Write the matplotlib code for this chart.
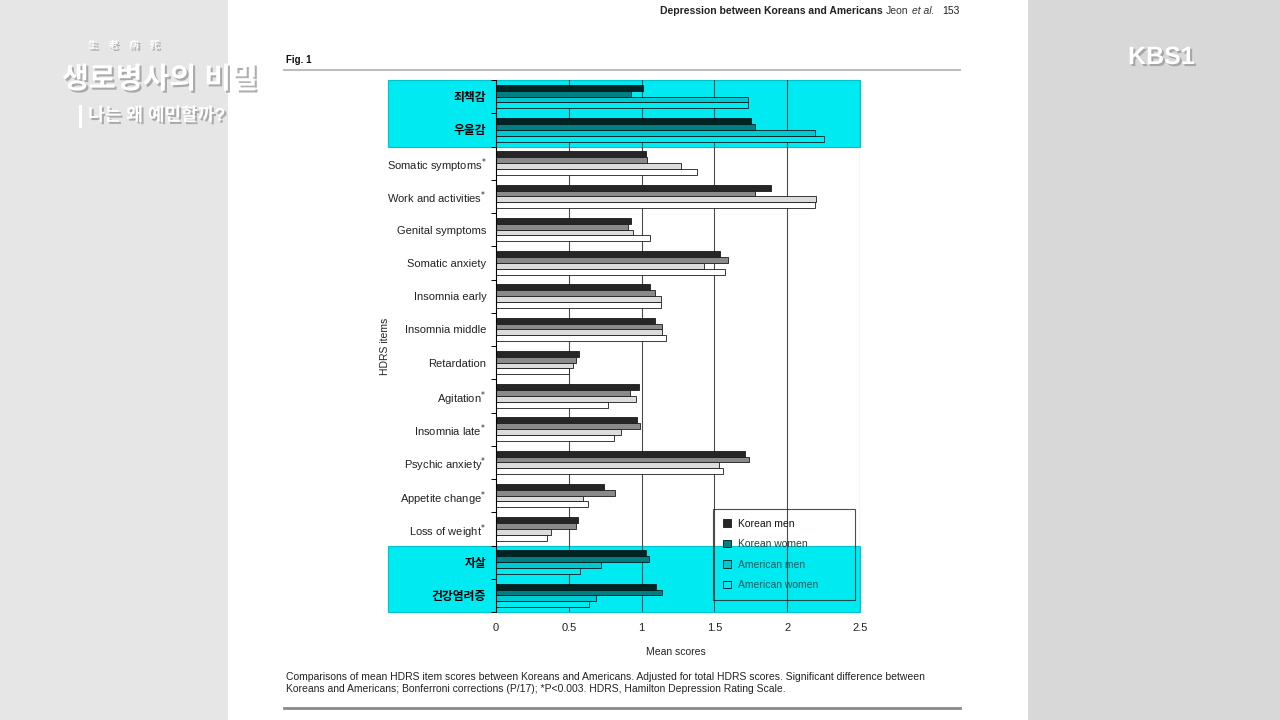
import numpy as np
import matplotlib.pyplot as plt
import matplotlib.patheffects as pe
from matplotlib.colors import to_rgb
from matplotlib.patches import Rectangle
from matplotlib.transforms import blended_transform_factory

plt.rcParams['font.family'] = ['Liberation Sans', 'Noto Sans CJK KR', 'DejaVu Sans']

# HDRS items, top to bottom (Korean = items highlighted by the broadcaster)
categories = ['죄책감', '우울감', 'Somatic symptoms', 'Work and activities',
              'Genital symptoms', 'Somatic anxiety', 'Insomnia early',
              'Insomnia middle', 'Retardation', 'Agitation', 'Insomnia late',
              'Psychic anxiety', 'Appetite change', 'Loss of weight',
              '자살', '건강염려증']
significant = [False, False, True, True, False, False, False, False,
               False, True, True, True, True, True, False, False]

# Mean scores
korean_men = [1.01, 1.75, 1.03, 1.89, 0.93, 1.54, 1.06, 1.09,
              0.57, 0.98, 0.97, 1.71, 0.74, 0.56, 1.03, 1.10]
korean_women = [0.93, 1.78, 1.04, 1.78, 0.91, 1.59, 1.09, 1.14,
                0.55, 0.92, 0.99, 1.74, 0.82, 0.55, 1.05, 1.14]
american_men = [1.73, 2.19, 1.27, 2.20, 0.94, 1.43, 1.13, 1.14,
                0.53, 0.96, 0.86, 1.53, 0.60, 0.38, 0.72, 0.69]
american_women = [1.73, 2.25, 1.38, 2.19, 1.06, 1.57, 1.13, 1.17,
                  0.50, 0.77, 0.81, 1.56, 0.63, 0.35, 0.58, 0.64]

series_names = ['Korean men', 'Korean women', 'American men', 'American women']
series_colors = ['#262626', '#8a8a8a', '#dcdcdc', '#ffffff']
x_ticks = [0, 0.5, 1, 1.5, 2, 2.5]
x_ticklabels = ['0', '0.5', '1', '1.5', '2', '2.5']
highlight_groups = [(0, 1), (14, 15)]
CYAN = '#00eaf2'
EDGE = '#1a1a1a'


def fx(px):
    return px / 1280


def fy(py):
    return 1 - py / 720


def tint(c):
    # the broadcast highlight acts like a multiply layer
    r, g, b = to_rgb(c)
    cr, cg, cb = to_rgb(CYAN)
    return (r * cr, g * cg, b * cb)


fig = plt.figure(figsize=(12.8, 7.2), dpi=100)
fig.patch.set_facecolor('#e6e6e6')
fig.add_artist(Rectangle((fx(1028), 0), fx(252), 1, transform=fig.transFigure,
                         facecolor='#d8d8d8', edgecolor='none', zorder=-2))
fig.add_artist(Rectangle((fx(228), 0), fx(800), 1, transform=fig.transFigure,
                         facecolor='white', edgecolor='none', zorder=-1))

ax = fig.add_axes([fx(496), fy(612), fx(364), 532 / 720])

y = np.arange(len(categories))
in_band = [any(a <= i <= b for a, b in highlight_groups) for i in y]
h = 0.175
all_series = [korean_men, korean_women, american_men, american_women]
for k, (vals, name, col) in enumerate(zip(all_series, series_names, series_colors)):
    faces = [tint(col) if hb else col for hb in in_band]
    edges = [tint(EDGE) if hb else EDGE for hb in in_band]
    ax.barh(y + (k - 1.5) * h, vals, height=h, color=faces, edgecolor=edges,
            linewidth=0.6, label=name, zorder=1)

for xv in x_ticks[1:]:
    ax.axvline(xv, color='#4a4a4a', lw=0.8, zorder=0.5)

ax.set_xlim(0, 2.5)
ax.set_ylim(len(categories) - 0.5, -0.5)
for s in ['top', 'bottom', 'right']:
    ax.spines[s].set_visible(False)
ax.spines['left'].set_linewidth(0.8)

labels = [c + (r'$^{*}$' if sig else '') for c, sig in zip(categories, significant)]
ax.set_yticks(y)
ax.set_yticklabels(labels)
ax.tick_params(axis='y', which='major', length=0, pad=7, labelsize=8, labelcolor='#222')
ax.set_yticks(np.arange(-0.5, len(categories)), minor=True)
ax.tick_params(axis='y', which='minor', length=3.5, width=0.7)
for lbl, cat in zip(ax.get_yticklabels(), categories):
    if any(ch >= '\uac00' for ch in cat):
        lbl.set_fontweight('bold')
        lbl.set_fontsize(8.5)
        lbl.set_color('black')

ax.set_xticks(x_ticks)
ax.set_xticklabels(x_ticklabels)
ax.tick_params(axis='x', length=0, pad=8, labelsize=8, labelcolor='#222')

ax.set_xlabel('Mean scores', fontsize=7.5, color='#222')
ax.xaxis.set_label_coords(0.4945, -0.066)
ax.set_ylabel('HDRS items', fontsize=7.5, color='#222')
ax.yaxis.set_label_coords(-0.29, 0.5)

# cyan highlight bands from the broadcast, under the bars
band_tr = blended_transform_factory(fig.transFigure, ax.transData)
for first, last in highlight_groups:
    ax.add_artist(Rectangle((fx(388), first - 0.5), fx(472), last - first + 1,
                            transform=band_tr, facecolor=CYAN, edgecolor='#00c4cc',
                            lw=0.8, clip_on=False, zorder=0.3))

leg = ax.legend(loc='lower left', bbox_to_anchor=(0.596, 0.0226, 0.39, 0.163),
                mode='expand', fontsize=7.5, handlelength=0.75, handleheight=0.75,
                fancybox=False, edgecolor='#222', facecolor='none', framealpha=None,
                borderpad=0.95, labelspacing=1.0, handletextpad=0.7, borderaxespad=0)
leg.get_frame().set_linewidth(0.8)
leg_text_colors = ['#111111', '#1e4446', '#1f5a5e', '#1f5a5e']
for k, (hd, txt) in enumerate(zip(leg.legend_handles, leg.get_texts())):
    col = series_colors[k]
    hd.set_facecolor(col if k == 0 else tint(col))
    hd.set_edgecolor(EDGE if k == 0 else tint(EDGE))
    txt.set_color(leg_text_colors[k])

# page decorations
fig.text(fx(883), fy(11), 'Depression between Koreans and Americans', ha='right',
         va='center', fontsize=7.5, fontweight='bold', color='#222')
fig.text(fx(886), fy(11), 'Jeon', ha='left', va='center', fontsize=7.5, color='#333')
fig.text(fx(912), fy(11), 'et al.', ha='left', va='center', fontsize=7.5,
         style='italic', color='#333')
fig.text(fx(960), fy(11), '153', ha='right', va='center', fontsize=7.5, color='#222')
fig.text(fx(286), fy(60), 'Fig. 1', ha='left', va='center', fontsize=7,
         fontweight='bold', color='#111')
fig.add_artist(plt.Line2D([fx(284), fx(960)], [fy(70), fy(70)], color='#bdbdbd', lw=1.5))
fig.text(fx(286), fy(677), 'Comparisons of mean HDRS item scores between Koreans and Americans. '
         'Adjusted for total HDRS scores. Significant difference between',
         ha='left', va='center', fontsize=7.5, color='#222')
fig.text(fx(286), fy(689), 'Koreans and Americans; Bonferroni corrections (P/17); *P<0.003. '
         'HDRS, Hamilton Depression Rating Scale.',
         ha='left', va='center', fontsize=7.5, color='#222')
fig.add_artist(plt.Line2D([fx(284), fx(960)], [fy(708), fy(708)], color='#8a8a8a', lw=2))

# broadcast overlay
shadow = [pe.withSimplePatchShadow(offset=(1.5, -1.5), shadow_rgbFace='#9a9a9a', alpha=0.8)]
fig.text(fx(88), fy(45), '生    老    病    死', ha='left', va='center', fontsize=7,
         color='white', fontweight='bold', path_effects=shadow)
fig.text(fx(62), fy(80), '생로병사의 비밀', ha='left', va='center', fontsize=21,
         color='white', fontweight='bold', path_effects=shadow)
fig.text(fx(88), fy(116), '나는 왜 예민할까?', ha='left', va='center', fontsize=13,
         color='white', fontweight='bold', path_effects=shadow)
fig.add_artist(Rectangle((fx(79), fy(128)), fx(3), 23 / 720, transform=fig.transFigure,
                         facecolor='white', edgecolor='none'))
fig.text(fx(1128), fy(57), 'KBS1', ha='left', va='center', fontsize=18,
         color='white', fontweight='bold', path_effects=shadow)

fig.savefig('out.png', dpi=100, facecolor=fig.get_facecolor())
